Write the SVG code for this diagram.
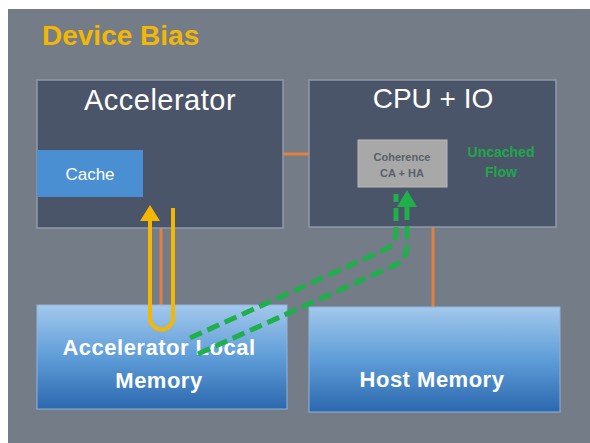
<svg xmlns="http://www.w3.org/2000/svg" width="590" height="443" viewBox="0 0 590 443">
<defs>
<linearGradient id="memg" x1="0" y1="0" x2="0" y2="1">
<stop offset="0" stop-color="#a3c8ec"/>
<stop offset="0.5" stop-color="#5e9dd8"/>
<stop offset="1" stop-color="#2b68ae"/>
</linearGradient>
</defs>
<style>
.box{fill:#4b5569;stroke:#8e9aab;stroke-width:1.5}
.mem{fill:url(#memg);stroke:#8fb4dc;stroke-width:1}
.title{font-family:"Liberation Sans",Arial,sans-serif;font-size:28px;fill:#ffffff;text-anchor:middle}
.memt{font-family:"Liberation Sans",Arial,sans-serif;font-size:22px;font-weight:bold;fill:#ffffff;text-anchor:middle;letter-spacing:0.5px}
.orange{stroke:#e2813d;stroke-width:3;fill:none}
.green{stroke:#1fb04b;stroke-width:5;fill:none;stroke-dasharray:13 6}
</style>
<rect x="0" y="0" width="590" height="443" fill="#ffffff"/>
<rect x="8" y="9" width="582" height="434" fill="#747c88"/>
<text x="42" y="45" font-family="Liberation Sans,Arial,sans-serif" font-size="28" font-weight="bold" fill="#f2b705">Device Bias</text>

<g id="connectors">
<line class="orange" x1="283" y1="154" x2="309" y2="154"/>
<line class="orange" x1="433" y1="227" x2="433" y2="307"/>
<line class="orange" x1="161" y1="228" x2="161" y2="305"/>
</g>

<g id="accelerator">
<rect class="box" x="37" y="80" width="246" height="148"/>
<text class="title" x="160" y="110" style="font-size:29px;letter-spacing:0.5px">Accelerator</text>
</g>
<g id="cache">
<rect x="37" y="150" width="106" height="47" fill="#4a8fd2"/>
<text x="90" y="180" font-family="Liberation Sans,Arial,sans-serif" font-size="17" fill="#ffffff" text-anchor="middle">Cache</text>
</g>

<g id="cpu">
<rect class="box" x="309" y="80" width="247" height="147"/>
<text class="title" x="433" y="108">CPU + IO</text>
<text x="501" y="157" font-family="Liberation Sans,Arial,sans-serif" font-size="14" font-weight="bold" fill="#1fa84a" text-anchor="middle">Uncached</text>
<text x="501" y="177" font-family="Liberation Sans,Arial,sans-serif" font-size="14" font-weight="bold" fill="#1fa84a" text-anchor="middle">Flow</text>
</g>
<g id="coherence">
<rect x="358" y="140" width="89" height="47" fill="#a8a8a8" stroke="#b8b8b8" stroke-width="1"/>
<text x="402" y="161" font-family="Liberation Sans,Arial,sans-serif" font-size="11" font-weight="bold" fill="#5a606a" text-anchor="middle">Coherence</text>
<text x="402" y="177" font-family="Liberation Sans,Arial,sans-serif" font-size="11" font-weight="bold" fill="#5a606a" text-anchor="middle">CA + HA</text>
</g>

<g id="accel-mem">
<rect class="mem" x="37" y="305" width="250" height="104"/>
<text class="memt" x="159" y="355">Accelerator Local</text>
<text class="memt" x="159" y="388">Memory</text>
</g>
<g id="host-mem">
<rect class="mem" x="309" y="307" width="251" height="105"/>
<text class="memt" x="432" y="387">Host Memory</text>
</g>

<g id="flows">
<path d="M173,208 L173,318 A11.5,11.5 0 0 1 150,318 L150,220" stroke="#f5b700" stroke-width="4" fill="none"/>
<polygon points="150,205 160,221 140,221" fill="#f5b700"/>
<path class="green" d="M190,338 L384,250 Q396,245 396,232 L396,194"/>
<path class="green" d="M198,354 L395,265 Q407,259 407,246 L407,206"/>
<polygon points="407,190 417,207 397,207" fill="#1fb04b"/>
</g>
</svg>
